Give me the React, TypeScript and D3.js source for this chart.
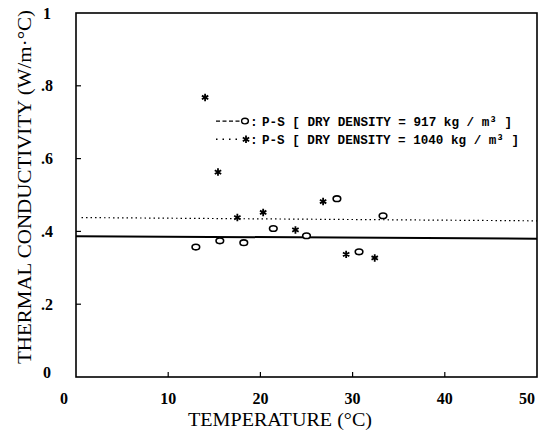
import React from "react";
import * as d3 from "d3";

// P-S, dry density 917 kg/m3 (open circles)
const temp917 = [13.0, 15.6, 18.2, 21.4, 25.0, 28.3, 30.7, 33.3];
const k917 = [0.357, 0.374, 0.369, 0.408, 0.388, 0.49, 0.344, 0.443];
// P-S, dry density 1040 kg/m3 (stars)
const temp1040 = [14.0, 15.4, 17.5, 20.3, 23.8, 26.8, 29.3, 32.4];
const k1040 = [0.768, 0.563, 0.438, 0.452, 0.404, 0.482, 0.337, 0.327];
// mean lines [x, k] at both ends
const mean917 = [[0, 0.387], [50, 0.38]];
const mean1040 = [[0.6, 0.438], [50, 0.429]];

const xTicks = [0, 10, 20, 30, 40, 50];
const yTicks = [0, 0.2, 0.4, 0.6, 0.8, 1];
const yTickLabels = ["0", ".2", ".4", ".6", ".8", "1"];

const width = 545;
const height = 432;
const marginLeft = 76;
const marginRight = 8;
const marginTop = 13;
const marginBottom = 55;

const App = () => {
  const xScale = d3.scaleLinear([0, 50], [marginLeft, width - marginRight]);
  const yScale = d3.scaleLinear([0, 1], [height - marginBottom, marginTop]);

  const line = d3.line<number[]>()
    .x(d => xScale(d[0]))
    .y(d => yScale(d[1]));

  const star = d3.symbol(d3.symbolAsterisk, 38)();

  const serif = "'Liberation Serif', 'DejaVu Serif', serif";
  const mono = "'Liberation Mono', 'DejaVu Sans Mono', monospace";

  const legendY1 = yScale(0.703);
  const legendY2 = yScale(0.653);

  return (
    <svg width={width} height={height} style={{ position: "absolute", left: 0, top: 0, background: "#fff" }}>
      {/* frame */}
      <rect
        x={xScale(0)}
        y={yScale(1)}
        width={xScale(50) - xScale(0)}
        height={yScale(0) - yScale(1)}
        fill="none"
        stroke="#000"
        strokeWidth={1.6}
      />

      {/* x ticks (inside, pointing up) */}
      {xTicks.slice(1, -1).map(t => (
        <line key={"xt" + t} x1={xScale(t)} x2={xScale(t)} y1={yScale(0)} y2={yScale(0) - 5} stroke="#000" strokeWidth={1.2} />
      ))}
      {/* y ticks */}
      {yTicks.slice(1, -1).map(t => (
        <line key={"yt" + t} x1={xScale(0)} x2={xScale(0) + 5} y1={yScale(t)} y2={yScale(t)} stroke="#000" strokeWidth={1.2} />
      ))}

      {/* x tick labels */}
      {xTicks.map(t => {
        let dx = 0;
        if (t === 0) dx = -12;
        if (t === 50) dx = -10;
        return (
          <text key={"xl" + t} x={xScale(t) + dx} y={404} textAnchor="middle" fontFamily={serif} fontWeight="bold" fontSize={16}>
            {t}
          </text>
        );
      })}
      {/* y tick labels */}
      {yTicks.map((t, i) => (
        <text key={"yl" + t} x={47} y={t === 0 ? yScale(t) - 5 : yScale(t)} dy="0.35em" textAnchor="middle" fontFamily={serif} fontWeight="bold" fontSize={16}>
          {yTickLabels[i]}
        </text>
      ))}

      {/* axis titles */}
      <text x={188} y={426} fontFamily={serif} fontSize={18} textLength={184} lengthAdjust="spacingAndGlyphs">
        TEMPERATURE (°C)
      </text>
      <text
        transform={`translate(31,${364}) rotate(-90)`}
        fontFamily={serif}
        fontSize={18}
        textLength={354}
        lengthAdjust="spacingAndGlyphs"
      >
        THERMAL  CONDUCTIVITY (W/m·°C)
      </text>

      {/* mean lines */}
      <path d={line(mean917) || ""} fill="none" stroke="#000" strokeWidth={2} />
      <path d={line(mean1040) || ""} fill="none" stroke="#000" strokeWidth={1.2} strokeDasharray="1.5 3" />

      {/* 917 points */}
      {temp917.map((t, i) => (
        <ellipse key={"c" + i} cx={xScale(t)} cy={yScale(k917[i])} rx={3.8} ry={2.8} fill="#fff" stroke="#000" strokeWidth={1.6} />
      ))}
      {/* 1040 points */}
      {temp1040.map((t, i) => (
        <path key={"s" + i} d={star || ""} transform={`translate(${xScale(t)},${yScale(k1040[i])})`} fill="none" stroke="#000" strokeWidth={1.8} />
      ))}

      {/* legend */}
      <line x1={216} x2={241} y1={legendY1} y2={legendY1} stroke="#000" strokeWidth={1.3} strokeDasharray="4 2.5" />
      <ellipse cx={245} cy={legendY1} rx={3.4} ry={2.8} fill="#fff" stroke="#000" strokeWidth={1.4} />
      <text x={250} y={legendY1} dy="0.35em" fontFamily={mono} fontWeight="bold" fontSize={13}>:</text>
      <text x={262} y={legendY1} dy="0.35em" fontFamily={mono} fontWeight="bold" fontSize={13} textLength={250} lengthAdjust="spacingAndGlyphs">
        P-S [ DRY DENSITY = 917 kg / m³ ]
      </text>

      <line x1={216} x2={238} y1={legendY2} y2={legendY2} stroke="#000" strokeWidth={1.6} strokeDasharray="1.5 5" />
      <path d={star || ""} transform={`translate(${246},${legendY2})`} fill="none" stroke="#000" strokeWidth={1.8} />
      <text x={250} y={legendY2} dy="0.35em" fontFamily={mono} fontWeight="bold" fontSize={13}>:</text>
      <text x={262} y={legendY2} dy="0.35em" fontFamily={mono} fontWeight="bold" fontSize={13} textLength={257} lengthAdjust="spacingAndGlyphs">
        P-S [ DRY DENSITY = 1040 kg / m³  ]
      </text>
    </svg>
  );
};

export default App;
